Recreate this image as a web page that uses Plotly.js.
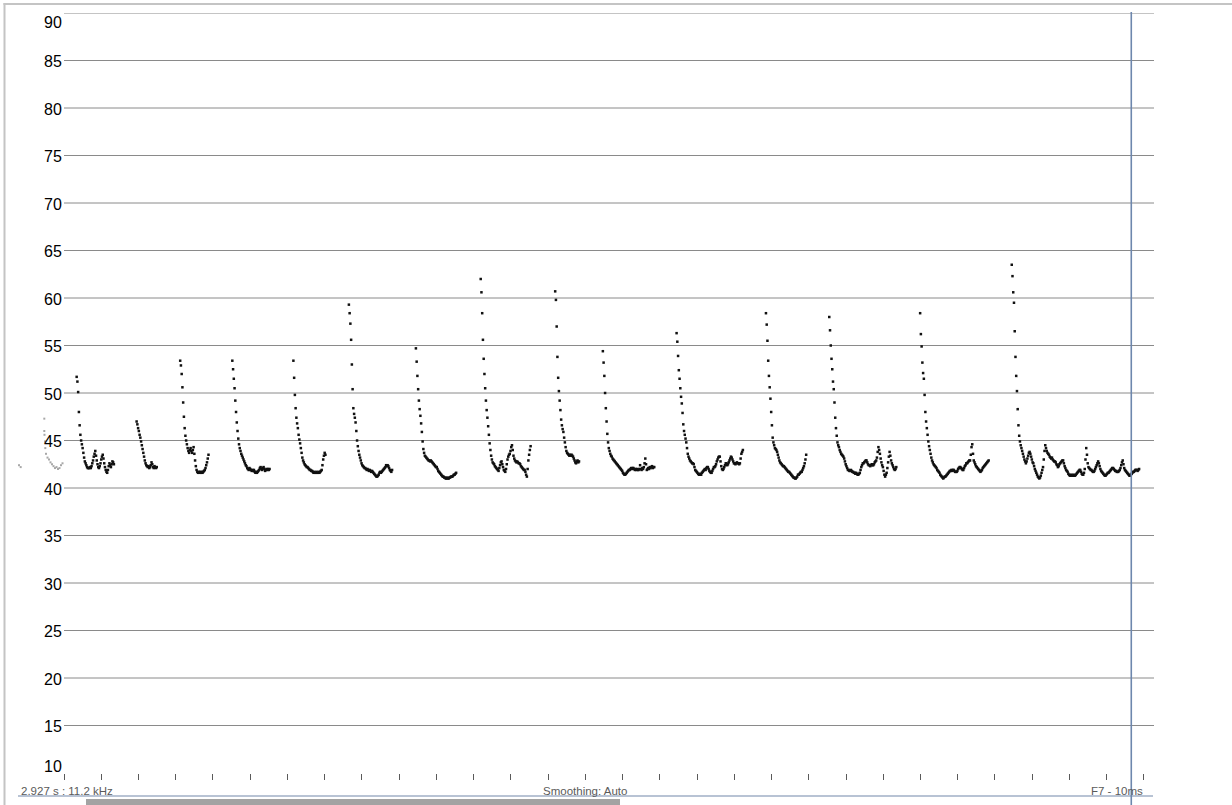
<!DOCTYPE html>
<html>
<head>
<meta charset="utf-8">
<script src="https://cdn.plot.ly/plotly-3.0.1.min.js"></script>
<style>
  html, body { margin: 0; padding: 0; background: #ffffff; }
  #chart { width: 1232px; height: 805px; }
</style>
</head>
<body>
<div id="chart"></div>
<script>
// Intensity contour (dB) sampled every 2 ms, one array per voiced segment.
const frameStep = 0.002;          // seconds between samples
const windowLength = 2.927;       // seconds shown
const cursorTime = 2.866;         // playback cursor (s)

const segStart = [0.034, 0.195, 0.312, 0.452, 0.616, 0.765, 0.945, 1.119,
                  1.319, 1.447, 1.645, 1.885, 2.055, 2.299, 2.545];

const seg01 = [51.7,51.2,50.1,48.0,46.6,45.6,45.0,44.6,44.2,43.7,43.2,42.8,
  42.6,42.4,42.2,42.1,42.1,42.1,42.2,42.1,42.3,42.6,42.9,43.3,43.6,43.9,43.4,
  42.9,42.5,42.2,42.1,42.3,42.6,43.0,43.3,43.5,43.1,42.6,42.2,41.9,41.7,41.6,
  41.9,42.3,42.6,42.4,42.2,42.5,42.8,42.7,42.5];
const seg02 = [47.0,46.7,46.3,46.0,45.6,45.3,44.9,44.5,44.1,43.7,43.3,42.9,
  42.6,42.4,42.3,42.2,42.3,42.1,42.2,42.4,42.7,42.5,42.2,42.1,42.3,42.2,42.1,42.2];
const seg03 = [53.4,52.9,52.0,50.6,49.0,47.5,46.3,45.5,45.0,44.6,44.2,43.9,
  43.7,44.0,44.2,43.9,43.7,44.0,44.3,43.6,42.9,42.3,41.9,41.7,41.6,41.7,41.6,
  41.7,41.6,41.7,41.6,41.7,41.8,41.9,42.1,42.4,42.7,43.1,43.5];
const seg04 = [53.4,52.5,51.5,50.5,49.2,48.0,46.9,46.0,45.2,44.6,44.2,43.9,
  43.6,43.4,43.2,43.0,42.8,42.6,42.4,42.3,42.1,42.0,41.9,42.1,42.0,41.9,41.8,
  41.9,41.8,41.9,41.7,41.6,41.7,41.6,41.7,41.8,41.9,42.1,42.2,42.0,41.9,42.1,
  42.2,42.0,41.8,41.9,42.0,41.9,42.0,41.9,42.0];
const seg05 = [53.4,51.6,49.8,48.4,47.4,46.8,46.3,45.6,45.1,44.7,44.2,43.7,
  43.2,42.9,42.7,42.5,42.4,42.3,42.2,42.2,42.1,42.0,41.9,41.9,41.8,41.8,41.7,
  41.6,41.7,41.6,41.6,41.7,41.6,41.6,41.7,41.6,41.7,41.8,41.9,42.4,43.0,43.4,
  43.7,43.5];
const seg06 = [59.3,58.4,57.3,55.6,53.0,50.4,48.4,47.8,47.4,46.9,46.0,45.0,
  44.4,43.9,43.5,43.2,42.9,42.6,42.4,42.3,42.2,42.1,42.1,42.0,41.9,42.0,41.9,
  41.8,41.9,41.8,41.7,41.8,41.7,41.6,41.5,41.4,41.3,41.2,41.2,41.3,41.4,41.6,
  41.7,41.6,41.7,41.8,41.9,42.0,42.1,42.2,42.4,42.3,42.4,42.3,42.1,41.9,41.8,
  41.7,41.9];
const seg07 = [54.7,53.3,51.8,50.4,49.2,48.3,47.6,46.8,45.9,44.9,44.1,43.7,
  43.4,43.3,43.2,43.1,43.0,42.9,42.9,42.8,42.9,42.8,42.7,42.6,42.5,42.4,42.3,
  42.2,42.2,42.0,41.8,41.7,41.6,41.5,41.4,41.3,41.2,41.2,41.1,41.1,41.0,41.0,
  41.1,41.0,41.0,41.1,41.1,41.2,41.2,41.2,41.3,41.4,41.4,41.5,41.6];
const seg08 = [62.0,60.6,58.4,55.6,53.6,52.0,50.5,49.2,48.2,47.4,46.5,45.6,
  44.7,44.0,43.4,43.0,42.7,42.6,42.5,42.3,42.2,42.1,42.0,41.9,41.8,42.1,42.4,
  42.7,42.8,42.5,42.2,41.9,41.8,41.7,42.0,42.5,43.0,43.3,43.5,43.6,43.9,44.3,
  44.5,44.0,43.4,43.1,42.9,42.8,42.7,42.8,42.7,42.6,42.6,42.5,42.3,42.2,42.1,
  42.0,41.9,41.9,41.7,41.4,41.2,42.0,42.9,43.5,44.0,44.4];
const seg09 = [60.7,59.8,57.0,53.8,51.6,50.2,49.2,48.2,47.2,46.6,46.2,45.9,
  45.3,44.8,44.3,43.9,43.7,43.6,43.5,43.4,43.5,43.4,43.5,43.4,43.3,43.1,42.9,
  42.7,42.6,42.8,42.9,42.7,42.8];
const seg10 = [54.4,53.2,51.8,50.0,48.4,47.0,45.7,44.8,44.2,43.9,43.6,43.4,
  43.3,43.1,43.0,42.9,42.8,42.7,42.6,42.5,42.4,42.3,42.2,42.1,42.0,41.9,41.8,
  41.6,41.5,41.4,41.4,41.5,41.6,41.7,41.8,41.9,41.9,42.0,42.1,42.0,42.1,42.1,
  42.0,41.9,42.0,41.9,42.0,41.9,41.9,42.0,42.4,42.0,41.9,42.1,42.0,42.2,42.6,
  43.1,42.5,41.9,42.0,42.1,42.0,42.2,42.1,42.2,42.3,42.1,42.2,42.2];
const seg11 = [56.3,55.4,53.9,52.4,51.5,50.5,49.6,48.9,47.9,46.7,46.0,45.6,
  45.2,44.8,44.2,43.6,43.3,43.1,42.9,42.8,42.7,42.6,42.6,42.5,42.2,41.9,41.8,
  41.7,41.6,41.5,41.4,41.4,41.5,41.4,41.6,41.7,41.8,41.9,42.0,41.9,42.1,42.2,
  42.2,42.0,41.8,41.7,41.6,41.6,41.8,42.0,42.2,42.2,42.3,42.5,42.8,43.0,43.2,
  43.3,43.3,42.8,42.3,42.0,41.9,42.0,42.2,42.4,42.6,42.6,42.4,42.5,42.7,42.9,
  43.1,43.3,43.2,43.0,42.8,42.6,42.6,42.5,42.6,42.7,42.6,42.6,42.5,42.6,43.1,
  43.6,43.8,44.0];
const seg12 = [58.4,57.2,55.5,53.4,51.8,50.6,49.4,48.0,46.6,45.3,44.8,44.5,
  44.2,44.1,44.0,43.8,43.5,43.2,42.9,42.7,42.6,42.5,42.4,42.3,42.3,42.2,42.1,
  42.0,41.9,41.8,41.7,41.7,41.6,41.5,41.4,41.3,41.2,41.1,41.1,41.0,41.0,41.1,
  41.2,41.4,41.4,41.5,41.6,41.7,41.7,41.9,42.1,42.3,42.6,43.0,43.5];
const seg13 = [58.0,56.6,55.0,53.6,52.5,51.2,50.4,49.0,47.4,46.3,45.5,44.8,
  44.5,44.3,44.0,43.8,43.6,43.5,43.4,43.3,43.1,42.8,42.5,42.3,42.1,41.9,41.9,
  41.8,41.8,41.9,41.8,41.7,41.7,41.6,41.6,41.5,41.6,41.5,41.4,41.4,41.5,41.6,
  41.9,42.2,42.4,42.6,42.6,42.7,42.8,42.9,42.9,42.7,42.5,42.4,42.4,42.3,42.4,
  42.5,42.4,42.4,42.5,42.7,42.8,42.9,43.2,43.8,44.3,44.0,43.6,43.1,42.7,42.4,
  42.2,41.8,41.4,41.2,41.4,41.6,42.1,42.7,43.3,43.8,43.4,42.9,42.6,42.4,42.2,
  42.0,41.9,42.0,42.2];
const seg14 = [58.4,56.2,54.9,53.2,52.1,51.5,49.8,48.0,47.0,46.3,45.6,44.9,
  44.4,44.0,43.6,43.2,42.9,42.7,42.5,42.4,42.3,42.2,42.1,41.9,41.8,41.7,41.6,
  41.4,41.3,41.2,41.1,41.0,41.1,41.2,41.2,41.3,41.4,41.5,41.6,41.7,41.8,41.8,
  41.9,41.8,41.9,41.9,41.8,41.7,41.7,41.7,41.8,42.0,42.1,42.2,42.2,42.1,42.0,
  41.9,41.9,42.1,42.3,42.4,42.6,42.6,42.7,42.8,42.9,42.9,43.5,44.3,44.6,43.6,
  42.9,42.7,42.5,42.3,42.2,42.1,42.0,41.9,41.8,41.7,41.8,41.9,42.1,42.2,42.3,
  42.4,42.5,42.6,42.7,42.8,42.9];
const seg15 = [63.5,62.3,60.6,59.5,56.5,53.8,51.8,50.2,48.3,46.6,45.5,44.9,
  44.5,44.2,43.9,43.6,43.3,43.0,42.8,42.6,42.8,43.1,43.4,43.7,43.8,43.6,43.3,
  43.0,42.7,42.6,42.3,42.0,41.8,41.6,41.4,41.2,41.1,41.0,41.1,41.3,41.6,41.9,
  42.2,43.0,43.9,44.5,44.2,43.9,43.7,43.6,43.5,43.3,43.2,43.1,43.2,43.0,42.9,
  42.8,42.8,42.7,42.5,42.4,42.2,42.3,42.5,42.6,42.7,42.8,42.9,42.9,42.6,42.3,
  42.1,41.9,41.8,41.7,41.5,41.4,41.3,41.3,41.4,41.3,41.3,41.4,41.3,41.3,41.4,
  41.5,41.6,41.7,41.8,41.9,41.9,41.7,41.5,41.4,41.4,41.6,42.0,43.0,44.2,43.5,
  42.6,42.2,42.1,42.0,41.9,41.9,41.8,41.7,41.7,41.8,42.0,42.2,42.4,42.6,42.8,
  42.6,42.3,42.0,41.8,41.7,41.6,41.5,41.4,41.3,41.3,41.4,41.5,41.6,41.6,41.7,
  41.8,41.9,42.0,42.1,42.1,42.0,41.9,41.8,41.8,41.7,41.7,41.7,41.8,41.9,42.1,
  42.4,42.7,42.9,42.5,42.1,41.9,41.8,41.7,41.6,41.5,41.4,41.3,41.3,41.4,41.5,
  41.6,41.7,41.7,41.8,41.9,41.9,41.9,41.8,41.9,42.0];

// Tail of the previous segment, drawn faded before the window start.
const fadeT  = [-0.1208,-0.1163,-0.0529,-0.0529,-0.0524,-0.0510,-0.0502,-0.0483,
  -0.0443,-0.0403,-0.0363,-0.0322,-0.0282,-0.0242,-0.0201,-0.0161,-0.0121,-0.0081,-0.0040];
const fadeDb = [42.4,42.2,47.3,46.0,45.6,44.9,44.2,43.6,43.2,43.0,42.7,42.5,
  42.3,42.1,42.2,42.0,42.1,42.4,42.6];

const dbTicks = [90,85,80,75,70,65,60,55,50,45,40,35,30,25,20,15,10];
const gridValues = [90,85,80,75,70,65,60,55,50,45,40,35,30,25,20,15];
const tickCount = 30;             // time ticks every 0.1 s

const segments = [seg01,seg02,seg03,seg04,seg05,seg06,seg07,seg08,
                  seg09,seg10,seg11,seg12,seg13,seg14,seg15];

const tx = [], ty = [];
segments.forEach((vals, k) => {
  vals.forEach((v, i) => {
    tx.push(segStart[k] + i * frameStep);
    ty.push(v);
  });
});

const timeTicks = [];
for (let i = 0; i < tickCount; i++) timeTicks.push(+(i * 0.1).toFixed(1));

// plot geometry (px); the axis area reaches into the label gutter so the
// faded lead-in samples can be drawn there
const W = 1232, H = 805;
const M = { l: 4, r: 78, t: 13, b: 32 };
const pw = W - M.l - M.r, ph = H - M.t - M.b;
const pxPerSec = 372.4;
const xStart = -(64 - M.l) / pxPerSec;   // time at the left edge of the axis area
const px = x => (x - M.l) / pw;           // pixel column -> paper x
const py = y => (H - M.b - y) / ph;       // pixel row -> paper y

const uiFont = 'Liberation Sans, Arial, sans-serif';

const annotations = dbTicks.map(v => ({
  xref: 'paper', yref: 'y', x: px(64), y: v,
  xanchor: 'right', yanchor: 'middle',
  text: String(v), showarrow: false,
  yshift: v === 90 ? -9 : (v === 10 ? 7 : -1),
  font: { family: uiFont, size: 16, color: '#000000' }
}));

const status = [
  { text: '2.927 s : 11.2 kHz', x: px(19), xanchor: 'left' },
  { text: 'Smoothing: Auto', x: px(585), xanchor: 'center' },
  { text: 'F7 - 10ms', x: px(1145), xanchor: 'right' }
];
status.forEach(s => annotations.push({
  xref: 'paper', yref: 'paper', x: s.x, y: py(791),
  xanchor: s.xanchor, yanchor: 'middle', text: s.text, showarrow: false,
  font: { family: uiFont, size: 11.5, color: '#5a5a5a' }
}));

const shapes = gridValues.map(v => ({
  type: 'line', xref: 'x', yref: 'y', x0: 0, x1: windowLength, y0: v, y1: v,
  layer: 'below', line: { color: '#8a8a8a', width: 1 }
}));
shapes.push(
  // window frame: left edge and top edge
  { type: 'rect', xref: 'paper', yref: 'paper', x0: px(3.5), x1: px(5.5), y0: py(3), y1: py(806),
    fillcolor: '#c4c4c4', line: { width: 0 } },
  { type: 'rect', xref: 'paper', yref: 'paper', x0: px(3.5), x1: px(1240), y0: py(3), y1: py(5),
    fillcolor: '#c4c4c4', line: { width: 0 } },
  // status rule
  { type: 'line', xref: 'paper', yref: 'paper', x0: px(18), x1: px(1153), y0: py(796), y1: py(796),
    line: { color: '#7388aa', width: 1.2 } },
  // scroll thumb
  { type: 'rect', xref: 'paper', yref: 'paper', x0: px(86), x1: px(620), y0: py(799), y1: py(806),
    fillcolor: '#a3a3a3', line: { width: 0 } },
  // playback cursor
  { type: 'line', xref: 'x', yref: 'paper', x0: cursorTime, x1: cursorTime, y0: py(12), y1: py(806),
    line: { color: '#6d87ad', width: 1.6 } }
);

const data = [
  { type: 'scatter', mode: 'markers', x: fadeT, y: fadeDb,
    marker: { symbol: 'square', size: 2, color: '#a8a8a8' }, hoverinfo: 'skip' },
  { type: 'scatter', mode: 'markers', x: tx, y: ty,
    marker: { symbol: 'square', size: 2.5, color: '#111111' }, hoverinfo: 'skip' }
];

const layout = {
  width: W, height: H,
  margin: M,
  paper_bgcolor: '#ffffff', plot_bgcolor: '#ffffff',
  showlegend: false,
  xaxis: {
    range: [xStart, windowLength], showgrid: false, zeroline: false, showline: false,
    tickmode: 'array', tickvals: timeTicks,
    ticks: 'outside', ticklen: 6, tickwidth: 1, tickcolor: '#5a5a5a',
    showticklabels: false, fixedrange: true
  },
  yaxis: {
    range: [10, 90], zeroline: false, showline: false, showgrid: false,
    showticklabels: false, ticks: '', fixedrange: true
  },
  annotations: annotations,
  shapes: shapes
};

Plotly.newPlot('chart', data, layout, { displayModeBar: false, staticPlot: true });
</script>
</body>
</html>
